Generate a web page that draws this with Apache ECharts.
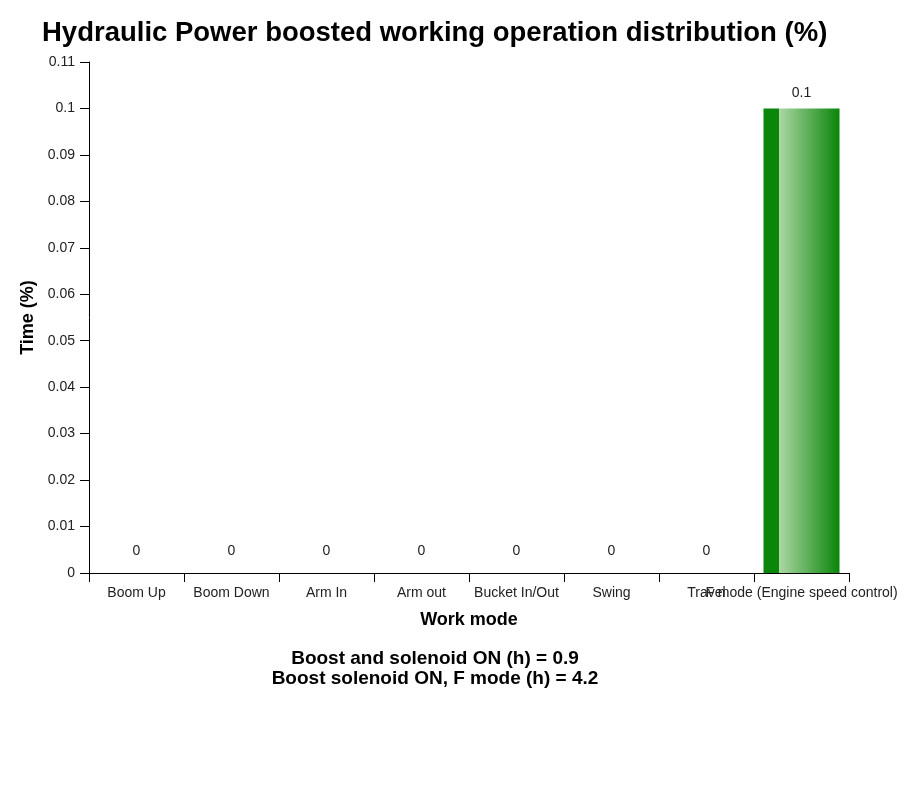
<!DOCTYPE html>
<html>
<head>
<meta charset="utf-8">
<script src="https://cdn.jsdelivr.net/npm/echarts@6/dist/echarts.min.js"></script>
<style>html,body{margin:0;padding:0;background:#fff}#c{width:916px;height:805px}</style>
</head>
<body>
<div id="c"></div>
<script>
const titleText = 'Hydraulic Power boosted working operation distribution (%)';
const categories = ['Boom Up', 'Boom Down', 'Arm In', 'Arm out', 'Bucket In/Out', 'Swing', 'Travel', 'F mode (Engine speed control)'];
const values = [0, 0, 0, 0, 0, 0, 0, 0.1];
const yTicks = [0, 0.01, 0.02, 0.03, 0.04, 0.05, 0.06, 0.07, 0.08, 0.09, 0.1, 0.11];
const footerLines = ['Boost and solenoid ON (h) = 0.9', 'Boost solenoid ON, F mode (h) = 4.2'];
const xName = 'Work mode';
const yName = 'Time (%)';

const FONT = '"Liberation Sans", Arial, sans-serif';
const chart = echarts.init(document.getElementById('c'), null, {renderer: 'canvas'});

const barColor = new echarts.graphic.LinearGradient(0, 0, 1, 0, [
  {offset: 0, color: '#0a870a'},
  {offset: 0.2, color: '#0a870a'},
  {offset: 0.2, color: '#acd8a4'},
  {offset: 1, color: '#0a850a'}
]);

const seriesData = values.map(v => v === 0 ? {value: v, label: {offset: [0, -7]}} : v);

chart.setOption({
  animation: false,
  backgroundColor: '#fff',
  title: [
    {text: titleText, left: 37, top: 14,
     textStyle: {fontFamily: FONT, fontSize: 27.5, fontWeight: 'bold', color: '#000'}}
  ],
  graphic: footerLines.map((t, i) => ({
    type: 'text',
    x: 435,
    y: 659 + i * 20,
    style: {text: t, textAlign: 'center', textVerticalAlign: 'middle',
      font: 'bold 19px ' + FONT, fill: '#000'}
  })),
  grid: {left: 89, right: 67, top: 62, bottom: 232, containLabel: false},
  xAxis: {
    type: 'category',
    data: categories,
    name: xName,
    nameLocation: 'middle',
    nameGap: 38,
    nameTextStyle: {fontFamily: FONT, fontSize: 18, fontWeight: 'bold', color: '#000'},
    axisLine: {lineStyle: {color: '#000', width: 1}},
    axisTick: {show: true, length: 9, lineStyle: {color: '#000'}},
    axisLabel: {interval: 0, margin: 13, fontFamily: FONT, fontSize: 14, color: '#222'},
    splitLine: {show: false}
  },
  yAxis: {
    type: 'value',
    min: yTicks[0],
    max: yTicks[yTicks.length - 1],
    interval: 0.01,
    name: yName,
    nameLocation: 'middle',
    nameGap: 44,
    nameRotate: 90,
    nameTextStyle: {fontFamily: FONT, fontSize: 18, fontWeight: 'bold', color: '#000'},
    axisLine: {show: true, lineStyle: {color: '#000', width: 1}},
    axisTick: {show: true, length: 9, lineStyle: {color: '#000'}},
    axisLabel: {margin: 14, fontFamily: FONT, fontSize: 14, color: '#222',
      formatter: v => String(Math.round(v * 100) / 100)},
    splitLine: {show: false}
  },
  series: [{
    type: 'bar',
    data: seriesData,
    barWidth: '80%',
    itemStyle: {color: barColor},
    label: {show: true, position: 'top', distance: 8, fontFamily: FONT, fontSize: 14, color: '#222',
      formatter: p => String(p.value)}
  }]
});
</script>
</body>
</html>
